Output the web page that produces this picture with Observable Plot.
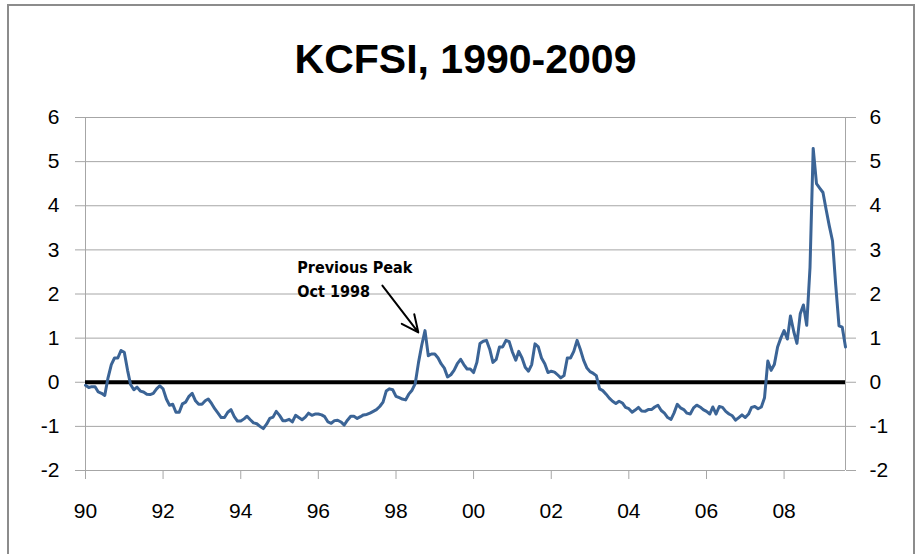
<!DOCTYPE html>
<html>
<head>
<meta charset="utf-8">
<script src="https://cdn.jsdelivr.net/npm/d3@7"></script>
<script src="https://cdn.jsdelivr.net/npm/@observablehq/plot@0.6"></script>
<style>
  html, body { margin: 0; padding: 0; background: #fff; }
  #wrap { position: relative; width: 922px; height: 554px; overflow: hidden; }
  #border { position: absolute; left: 7px; top: 4px; width: 908px; height: 620px;
            border: 2px solid #8c8c8c; box-sizing: border-box; pointer-events: none; }
  #wrap svg { position: absolute; left: 0; top: 0; }
</style>
</head>
<body>
<div id="wrap"><div id="border"></div></div>
<script>
// ---- data (monthly, Jan 1990 onward) ----
const startMonth = "1990-01-01";
const kcfsi1990s = [
  -0.07, -0.12, -0.10, -0.10, -0.22, -0.25, -0.30, 0.10, 0.40, 0.55, 0.55, 0.72,
  0.68, 0.27, -0.05, -0.17, -0.11, -0.20, -0.22, -0.27, -0.28, -0.25, -0.15, -0.08,
  -0.15, -0.38, -0.52, -0.50, -0.68, -0.68, -0.49, -0.45, -0.32, -0.25, -0.42, -0.50,
  -0.50, -0.42, -0.38, -0.48, -0.60, -0.70, -0.80, -0.80, -0.68, -0.62, -0.78, -0.88,
  -0.88, -0.83, -0.77, -0.85, -0.92, -0.94, -1.00, -1.05, -0.95, -0.82, -0.79, -0.66,
  -0.75, -0.87, -0.87, -0.84, -0.90, -0.75, -0.80, -0.85, -0.79, -0.70, -0.75, -0.72,
  -0.72, -0.74, -0.78, -0.90, -0.93, -0.87, -0.86, -0.90, -0.97, -0.86, -0.77, -0.77,
  -0.82, -0.78, -0.74, -0.73, -0.70, -0.66, -0.62, -0.55, -0.45, -0.20, -0.15, -0.17,
  -0.32, -0.35, -0.38, -0.40, -0.27, -0.18, -0.03, 0.45, 0.85, 1.17, 0.60, 0.64,
  0.64, 0.55, 0.42, 0.32, 0.12, 0.17, 0.27, 0.42, 0.52, 0.40, 0.30, 0.30
];
const kcfsi2000s = [
  0.22, 0.45, 0.88, 0.93, 0.95, 0.75, 0.45, 0.52, 0.80, 0.80, 0.95, 0.92,
  0.68, 0.50, 0.70, 0.55, 0.34, 0.25, 0.40, 0.87, 0.80, 0.55, 0.42, 0.22,
  0.25, 0.23, 0.17, 0.10, 0.15, 0.55, 0.55, 0.70, 0.95, 0.75, 0.50, 0.33,
  0.24, 0.20, 0.15, -0.15, -0.19, -0.27, -0.36, -0.43, -0.48, -0.43, -0.47, -0.57,
  -0.60, -0.68, -0.63, -0.57, -0.65, -0.66, -0.62, -0.62, -0.56, -0.52, -0.64, -0.70,
  -0.80, -0.84, -0.70, -0.50, -0.58, -0.62, -0.70, -0.72, -0.58, -0.52, -0.56, -0.62,
  -0.66, -0.72, -0.56, -0.72, -0.55, -0.57, -0.66, -0.72, -0.76, -0.86, -0.80, -0.74,
  -0.80, -0.72, -0.57, -0.55, -0.60, -0.56, -0.35, 0.48, 0.27, 0.40, 0.80, 1.00,
  1.17, 0.98, 1.50, 1.15, 0.88, 1.55, 1.75, 1.29, 2.60, 5.30, 4.50, 4.40,
  4.30, 3.90, 3.55, 3.20, 2.20, 1.28, 1.25, 0.80
];
const xDomain = ["1990-01-01", "2009-08-01"];
const xTickYears = [1990, 1992, 1994, 1996, 1998, 2000, 2002, 2004, 2006, 2008];
const yTicks = [-2, -1, 0, 1, 2, 3, 4, 5, 6];
const gridValues = [-1, 1, 2, 3, 4, 5, 6];
const title = "KCFSI, 1990-2009";
const note = [{date: "1995-06-17", value: 2.87, label: "Previous Peak\nOct 1998"}];
const noteArrow = [{fromDate: "1997-08-26", fromValue: 2.19, toDate: "1998-07-30", toValue: 1.13}];

// ---- build ----
const values = kcfsi1990s.concat(kcfsi2000s);
const start = new Date(startMonth);
const data = values.map((v, i) => ({date: d3.utcMonth.offset(start, i), value: v}));
const gray = "#a6a6a6";
const font = "'Liberation Sans', Arial, sans-serif";
const hyphenFormat = d => (d < 0 ? "-" + Math.abs(d) : String(d));

const chart = Plot.plot({
  width: 922,
  height: 554,
  marginLeft: 85,
  marginRight: 77,
  marginTop: 117,
  marginBottom: 84,
  style: {fontFamily: font, background: "transparent", color: "#000"},
  x: {type: "utc", domain: xDomain.map(d => new Date(d))},
  y: {domain: [-2, 6]},
  marks: [
    Plot.ruleY(gridValues, {stroke: gray, strokeWidth: 1}),
    Plot.ruleY([-2], {stroke: gray, strokeWidth: 1}),
    Plot.ruleX(xDomain.map(d => new Date(d)), {stroke: gray, strokeWidth: 1}),
    Plot.axisY({anchor: "left", ticks: yTicks, tickFormat: hyphenFormat, tickSize: 10, tickPadding: 16,
      fontSize: 21, stroke: gray, fill: "#000", label: null}),
    Plot.axisY({anchor: "right", ticks: yTicks, tickFormat: hyphenFormat, tickSize: 10, tickPadding: 14,
      fontSize: 21, stroke: gray, fill: "#000", label: null}),
    Plot.axisX({ticks: xTickYears.map(y => new Date(Date.UTC(y, 0, 1))),
      tickFormat: d3.utcFormat("%y"), tickSize: 9, tickPadding: 24,
      fontSize: 21, stroke: gray, fill: "#000", label: null}),
    Plot.ruleY([0], {stroke: "#000", strokeWidth: 4}),
    Plot.lineY(data, {x: "date", y: "value", stroke: "#3b6496", strokeWidth: 3,
      strokeLinejoin: "round"}),
    Plot.arrow(noteArrow, {
      x1: d => new Date(d.fromDate), y1: "fromValue",
      x2: d => new Date(d.toDate), y2: "toValue",
      stroke: "#000", strokeWidth: 2, headLength: 14, headAngle: 50, bend: 0
    }),
    Plot.text(note, {
      x: d => new Date(d.date), y: "value", text: "label",
      textAnchor: "start", lineAnchor: "top", lineHeight: 1.5,
      fontSize: 16, fontWeight: "bold",
      fontFamily: "'Liberation Sans Narrow', 'DejaVu Sans Condensed', sans-serif",
      fill: "#000"
    }),
    Plot.text([title], {
      text: d => d, frameAnchor: "top", dy: -58, lineAnchor: "middle",
      fontSize: 41, fontWeight: "bold", fill: "#000"
    })
  ]
});
document.getElementById("wrap").appendChild(chart);
</script>
</body>
</html>
